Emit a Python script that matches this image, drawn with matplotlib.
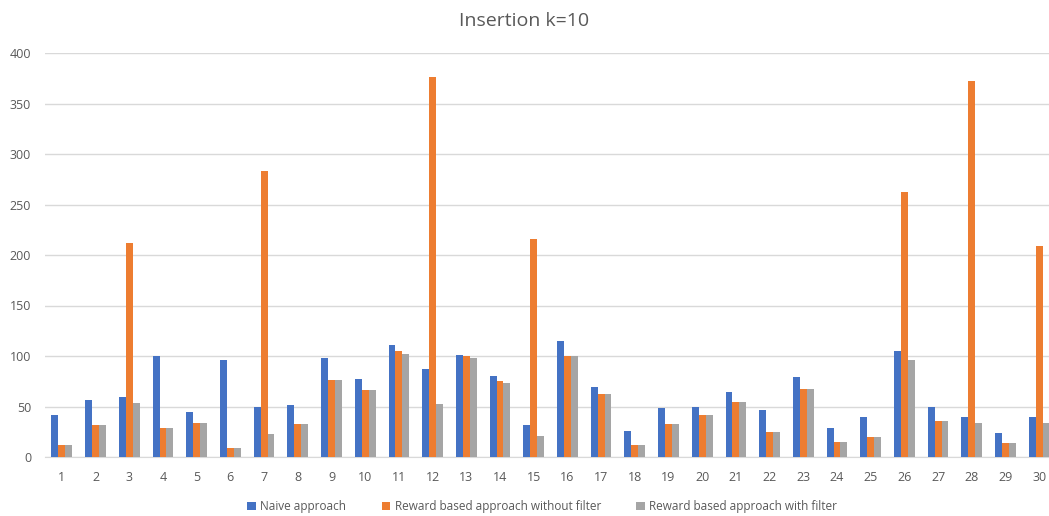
import matplotlib.pyplot as plt
import numpy as np

plt.rcParams['font.family'] = ['Open Sans', 'DejaVu Sans']

categories = [str(i) for i in range(1, 31)]
naive = [42, 56, 59, 100, 45, 96, 50, 51, 98, 77,
         111, 87, 101, 80, 32, 115, 69, 26, 49, 50,
         64, 47, 79, 29, 40, 105, 50, 40, 24, 40]
no_filter = [12, 32, 212, 29, 34, 9, 283, 33, 76, 66,
             105, 376, 100, 75, 216, 100, 62, 12, 33, 42,
             54, 25, 67, 15, 20, 262, 36, 372, 14, 209]
with_filter = [12, 32, 53, 29, 34, 9, 23, 33, 76, 66,
               102, 52, 98, 73, 21, 100, 62, 12, 33, 42,
               54, 25, 67, 15, 20, 96, 36, 34, 14, 34]
series_names = ['Naive approach', 'Reward based approach without filter',
                'Reward based approach with filter']
colors = ['#4472C4', '#ED7D31', '#A5A5A5']

fig = plt.figure(figsize=(10.49, 5.16), dpi=100)
ax = fig.add_axes([45/1049, 59/516, 1 - 45/1049, 404/516])

x = np.arange(1, len(categories) + 1)
w = 0.205
for i, (vals, name, c) in enumerate(zip([naive, no_filter, with_filter], series_names, colors)):
    ax.bar(x + (i - 1) * w, vals, width=w, color=c, label=name, zorder=3)

ax.set_xlim(0.5, 30.29)
ax.set_ylim(0, 400)
ax.set_yticks(range(0, 401, 50))
ax.set_xticks(x)
ax.set_xticklabels(categories)
ax.grid(axis='y', color='#D9D9D9', linewidth=1, zorder=0)
for s in ['top', 'right', 'left']:
    ax.spines[s].set_visible(False)
ax.spines['bottom'].set_color('#D9D9D9')
ax.tick_params(axis='both', length=0, labelsize=9, colors='#595959')
ax.tick_params(axis='x', pad=10)
ax.tick_params(axis='y', pad=10)

fig.text(0.5, 0.96, 'Insertion k=10', ha='center', va='center', fontsize=14, color='#595959')
fig.legend(loc='center', bbox_to_anchor=(0.517, 0.018), ncol=3, frameon=False,
           fontsize=8.5, handlelength=0.7, handleheight=0.7, columnspacing=3.0,
           handletextpad=0.4, labelcolor='#595959')

fig.savefig('out.png', dpi=100)
